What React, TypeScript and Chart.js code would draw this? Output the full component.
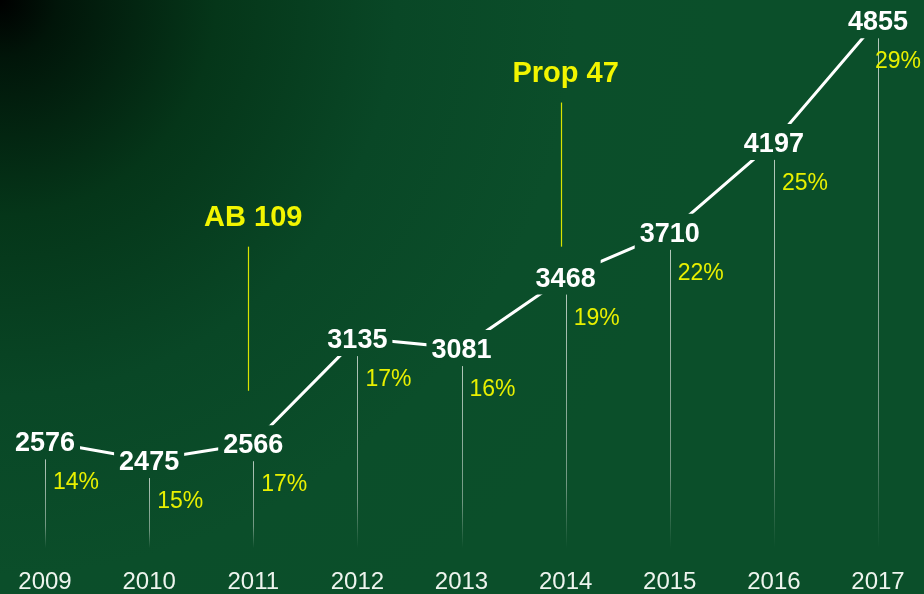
import React, { useEffect, useRef } from 'react';
import { Chart, registerables } from 'chart.js';

Chart.register(...registerables);

const years = ['2009', '2010', '2011', '2012', '2013', '2014', '2015', '2016', '2017'];
const counts = [2576, 2475, 2566, 3135, 3081, 3468, 3710, 4197, 4855];
const shares = [14, 15, 17, 17, 16, 19, 22, 25, 29];
const annotationLabels = ['AB 109', 'Prop 47'];
const annotationYears = ['2011', '2014'];
const annotationTops = [3630, 4410];
const annotationBottoms = [2850, 3630];

const FONT = '"Liberation Sans", Arial, sans-serif';
const W = 924;
const H = 594;

function labelBoxes(chart: any) {
  const ctx = chart.ctx as CanvasRenderingContext2D;
  const meta = chart.getDatasetMeta(0);
  ctx.save();
  ctx.font = `bold 27px ${FONT}`;
  const boxes = meta.data.map((pt: any, i: number) => {
    const w = ctx.measureText(String(counts[i])).width;
    return { x: pt.x, y: pt.y, w };
  });
  ctx.restore();
  return boxes;
}

const overlay = {
  id: 'overlay',
  beforeDraw(chart: any) {
    const ctx = chart.ctx as CanvasRenderingContext2D;
    ctx.save();
    const g = ctx.createRadialGradient(0, 0, 0, 0, 0, 720);
    g.addColorStop(0, '#000000');
    g.addColorStop(0.08, '#011509');
    g.addColorStop(0.3, '#053619');
    g.addColorStop(0.55, '#094726');
    g.addColorStop(0.8, '#0b4e2a');
    g.addColorStop(1, '#0b4f2a');
    ctx.fillStyle = g;
    ctx.fillRect(0, 0, W, H);
    ctx.restore();
  },
  beforeDatasetsDraw(chart: any) {
    const ctx = chart.ctx as CanvasRenderingContext2D;
    const boxes = labelBoxes(chart);
    // vertical drop lines
    ctx.save();
    boxes.forEach((b: any) => {
      const top = b.y + 18;
      const bottom = 548;
      const g = ctx.createLinearGradient(0, top, 0, bottom);
      g.addColorStop(0, 'rgba(235,240,235,0.75)');
      g.addColorStop(0.75, 'rgba(235,240,235,0.45)');
      g.addColorStop(1, 'rgba(235,240,235,0)');
      ctx.strokeStyle = g;
      ctx.lineWidth = 1;
      ctx.beginPath();
      ctx.moveTo(Math.round(b.x) + 0.5, top);
      ctx.lineTo(Math.round(b.x) + 0.5, bottom);
      ctx.stroke();
    });
    ctx.restore();
    // clip out label areas so the line breaks around the numbers
    ctx.save();
    ctx.beginPath();
    ctx.rect(0, 0, W, H);
    boxes.forEach((b: any) => {
      ctx.rect(b.x - b.w / 2 - 5, b.y - 18, b.w + 10, 36);
    });
    ctx.clip('evenodd');
  },
  afterDatasetsDraw(chart: any) {
    const ctx = chart.ctx as CanvasRenderingContext2D;
    ctx.restore();
    const boxes = labelBoxes(chart);
    const xScale = chart.scales.x;
    const yScale = chart.scales.y;
    ctx.save();
    // value labels
    ctx.font = `bold 27px ${FONT}`;
    ctx.fillStyle = '#ffffff';
    ctx.textAlign = 'center';
    ctx.textBaseline = 'alphabetic';
    boxes.forEach((b: any, i: number) => {
      ctx.fillText(String(counts[i]), b.x, b.y + 10);
    });
    // percent labels
    ctx.font = `23px ${FONT}`;
    ctx.fillStyle = '#e8f000';
    ctx.textAlign = 'left';
    boxes.forEach((b: any, i: number) => {
      const t = `${shares[i]}%`;
      const tw = ctx.measureText(t).width;
      let x = b.x + 8;
      if (x + tw > W - 3) x = W - 3 - tw;
      ctx.fillText(t, x, b.y + 48);
    });
    // annotations
    annotationLabels.forEach((label, i) => {
      const idx = years.indexOf(annotationYears[i]);
      const cx = xScale.getPixelForValue(idx);
      const yTop = yScale.getPixelForValue(annotationTops[i]);
      const yBot = yScale.getPixelForValue(annotationBottoms[i]);
      const lx = Math.round(cx - 5) + 0.5;
      ctx.strokeStyle = '#d8e400';
      ctx.lineWidth = 1.2;
      ctx.beginPath();
      ctx.moveTo(lx, yTop);
      ctx.lineTo(lx, yBot);
      ctx.stroke();
      ctx.font = `bold 29px ${FONT}`;
      ctx.fillStyle = '#f2f500';
      ctx.textAlign = 'center';
      ctx.fillText(label, cx, yTop - 21);
    });
    ctx.restore();
  },
};

export default function App() {
  const ref = useRef<HTMLCanvasElement>(null);
  useEffect(() => {
    if (!ref.current) return;
    const chart = new Chart(ref.current, {
      type: 'line',
      data: {
        labels: years,
        datasets: [
          {
            data: counts,
            borderColor: '#ffffff',
            borderWidth: 3,
            pointRadius: 0,
            pointHoverRadius: 0,
            tension: 0,
            clip: false as any,
          },
        ],
      },
      options: {
        responsive: false,
        animation: false,
        devicePixelRatio: 1,
        layout: { padding: { left: 45, right: 46, top: 12, bottom: 0 } },
        plugins: { legend: { display: false }, tooltip: { enabled: false } },
        scales: {
          x: {
            type: 'category',
            offset: false,
            grid: { display: false, drawTicks: false },
            border: { display: false },
            ticks: {
              color: '#eef4ee',
              font: { family: FONT, size: 24, lineHeight: 1.0 },
              padding: 0,
              maxRotation: 0,
              autoSkip: false,
            },
          },
          y: { display: false, min: 1880, max: 4900 },
        },
      },
      plugins: [overlay],
    });
    return () => chart.destroy();
  }, []);
  return (
    <div style={{ position: 'fixed', left: 0, top: 0, width: W, height: H }}>
      <canvas ref={ref} width={W} height={H} style={{ display: 'block' }} />
    </div>
  );
}
